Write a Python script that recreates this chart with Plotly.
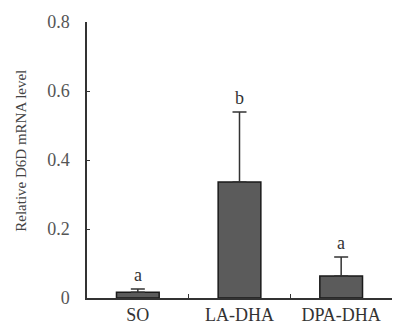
import plotly.graph_objects as go

categories = ["SO", "LA-DHA", "DPA-DHA"]
values = [0.017, 0.336, 0.064]
errors = [0.009, 0.203, 0.055]
letters = ["a", "b", "a"]
ytick_vals = [0, 0.2, 0.4, 0.6, 0.8]
ytick_text = ["0", "0.2", "0.4", "0.6", "0.8"]

FONT = "Liberation Serif"

fig = go.Figure()
fig.add_trace(go.Bar(
    x=categories, y=values,
    width=0.42,
    marker=dict(color="#5b5b5b", line=dict(color="#1a1a1a", width=1.5)),
    error_y=dict(type="data", array=errors, arrayminus=[0, 0, 0], symmetric=False,
                 color="#333333", thickness=1.5, width=7),
))

for c, v, e, l in zip(categories, values, errors, letters):
    fig.add_annotation(x=c, y=v + e, text=l, showarrow=False, yanchor="bottom",
                       yshift=2, font=dict(family=FONT, size=18, color="#333333"))

fig.add_annotation(xref="paper", yref="paper", x=-0.215, xanchor="center", y=0.535,
                   yanchor="middle", text="Relative D6D mRNA level", textangle=-90,
                   showarrow=False, font=dict(family=FONT, size=15, color="#444444"))

fig.update_layout(
    width=393, height=334,
    margin=dict(l=87, r=1, t=22, b=36, autoexpand=False),
    paper_bgcolor="white", plot_bgcolor="white",
    showlegend=False,
    font=dict(family=FONT, size=18, color="#444444"),
)
fig.update_xaxes(showline=True, linecolor="#333333", linewidth=1.5, ticks="inside",
                 tickson="boundaries", ticklen=4, tickcolor="#333333", showgrid=False,
                 automargin=False,
                 tickfont=dict(family=FONT, size=18, color="#333333"))
fig.update_yaxes(range=[0, 0.8], tickvals=ytick_vals, ticktext=ytick_text,
                 showline=True, linecolor="#333333", linewidth=1.5, ticks="inside",
                 ticklen=3, tickcolor="#333333", showgrid=False, zeroline=False,
                 ticklabelstandoff=12, automargin=False,
                 tickfont=dict(family=FONT, size=18, color="#555555"))

fig.write_html("out.html", config={"displayModeBar": False},
               post_script="document.body.style.margin='0';")
